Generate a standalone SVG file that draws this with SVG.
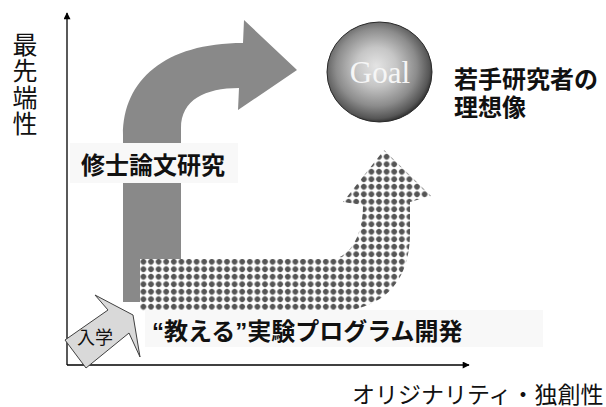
<svg xmlns="http://www.w3.org/2000/svg" width="606" height="407" viewBox="0 0 606 407">
  <style>
    .jp { font-family: "Liberation Sans", "Noto Sans CJK JP", sans-serif; fill: #111; }
    .b { font-weight: bold; }
    .lbl { font-size: 24px; }
    .axl { font-size: 25px; text-anchor: middle; }
    .box { fill: #f8f8f8; }
    .axis { stroke: #000; stroke-width: 1.3; fill: none; }
  </style>
  <defs>
    <marker id="ah" viewBox="0 0 10 10" refX="9" refY="5" markerWidth="8" markerHeight="7" markerUnits="userSpaceOnUse" orient="auto">
      <path d="M0,0 L10,5 L0,10 Z" fill="#000"/>
    </marker>
    <pattern id="dots" patternUnits="userSpaceOnUse" x="139.6" y="258" width="7.6" height="7.5">
      <rect width="7.6" height="7.5" fill="#fff"/>
      <path d="M3.8,0.2 L4.9,2.65 L7.4,3.75 L4.9,4.85 L3.8,7.3 L2.7,4.85 L0.2,3.75 L2.7,2.65 Z" fill="#555"/>
      <circle cx="3.8" cy="3.75" r="2.7" fill="#555"/>
    </pattern>
    <radialGradient id="ball" cx="0.47" cy="0.46" r="0.55" fx="0.47" fy="0.44">
      <stop offset="0" stop-color="#e4e4e4"/>
      <stop offset="0.35" stop-color="#c6c6c6"/>
      <stop offset="0.7" stop-color="#8c8c8c"/>
      <stop offset="0.92" stop-color="#565656"/>
      <stop offset="1" stop-color="#2e2e2e"/>
    </radialGradient>
  </defs>

  <g id="connectors">
    <line class="axis" x1="67" y1="365" x2="67" y2="13" marker-end="url(#ah)"/>
    <line class="axis" x1="67" y1="365" x2="469" y2="365" marker-end="url(#ah)"/>
  </g>

  <g id="master-thesis">
    <path d="M123,302 L123,135 C123,80 165,43 243,43 L244,20 L297,70 L238,110 L239,88 C205,88 181,100 181,128 L181,302 Z" fill="#898989"/>
    <rect class="box" x="70" y="143" width="168" height="40"/>
    <text class="jp b lbl" x="81" y="173.5">修士論文研究</text>
  </g>

  <g id="teaching-program">
    <path d="M140,259 L330,259 C350,259 363,235 363,205 L343,202 L384,150 L431,196 L410,202 L410,233 C410,275 390,305 345,311 L140,311 Z" fill="url(#dots)"/>
    <rect class="box" x="145" y="310" width="398" height="37"/>
    <text class="jp b lbl" x="152" y="340">“教える”実験プログラム開発</text>
  </g>

  <g id="enrollment">
    <polygon points="65,340 108,310 95,295 133,315 140,357 129,333 86,368" fill="#d9d9d9" stroke="#404040" stroke-width="1"/>
    <text class="jp" x="77" y="344" font-size="18">入学</text>
  </g>

  <g id="goal">
    <ellipse cx="379.5" cy="72" rx="52.5" ry="50" fill="url(#ball)" stroke="#2a2a2a" stroke-width="1"/>
    <text x="380" y="83" font-family="'Liberation Serif', serif" font-size="31" fill="#f6f6f6" text-anchor="middle">Goal</text>
  </g>

  <g id="goal-label">
    <text class="jp b lbl" x="454" y="88">若手研究者の</text>
    <text class="jp b lbl" x="454" y="116">理想像</text>
  </g>

  <g id="y-axis-label">
    <text class="jp axl" x="25" y="53.5">最</text>
    <text class="jp axl" x="25" y="80">先</text>
    <text class="jp axl" x="25" y="106.5">端</text>
    <text class="jp axl" x="25" y="133">性</text>
  </g>

  <g id="x-axis-label">
    <text class="jp" x="352" y="403" font-size="23">オリジナリティ・独創性</text>
  </g>
</svg>
